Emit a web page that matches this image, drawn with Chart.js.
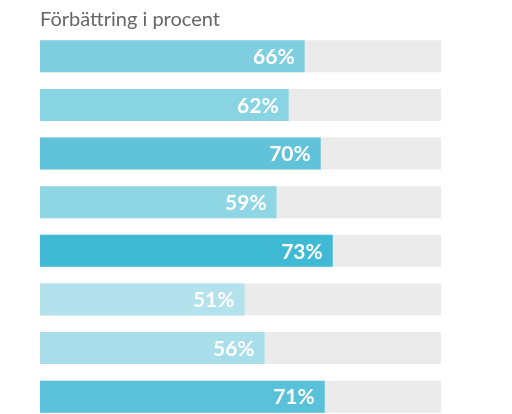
<!DOCTYPE html>
<html>
<head>
    <meta charset="utf-8">
    <title>Förbättring i procent</title>
    <script src="https://cdn.jsdelivr.net/npm/chart.js"></script>
    <style>
        html, body { margin: 0; padding: 0; background: #fff; overflow: hidden; }
        /* taller than the window: the last bar is cut off at the bottom edge */
        .chart-container { width: 512px; height: 430px; position: relative; }
    </style>
</head>
<body>
    <div class="chart-container">
        <canvas id="improveChart"></canvas>
    </div>
    <script>
        const categories = ['A', 'B', 'C', 'D', 'E', 'F', 'G', 'H'];
        const improvement = [66, 62, 70, 59, 73, 51, 56, 71];
        const fullScale = [100, 100, 100, 100, 100, 100, 100, 100];

        const barColors = ['#7fcfe1', '#88d4e3', '#60c3da', '#8fd6e5', '#40b9d5', '#b3e2ed', '#a8deea', '#5ac1da'];

        // white percent label inside the end of each bar
        const valueLabels = {
            id: 'valueLabels',
            afterDatasetsDraw(chart) {
                const ctx = chart.ctx;
                const meta = chart.getDatasetMeta(0);
                ctx.save();
                ctx.fillStyle = '#ffffff';
                ctx.font = 'bold 21px Lato';
                ctx.textAlign = 'right';
                ctx.textBaseline = 'middle';
                meta.data.forEach((bar, i) => {
                    ctx.fillText(improvement[i] + '%', bar.x - 10, bar.y + 1);
                });
                ctx.restore();
            }
        };

        const ctx = document.getElementById('improveChart').getContext('2d');
        const chart = new Chart(ctx, {
            type: 'bar',
            data: {
                labels: categories,
                datasets: [
                    {
                        data: improvement,
                        backgroundColor: barColors,
                        order: 1
                    },
                    {
                        data: fullScale,
                        backgroundColor: '#ebebeb',
                        order: 2
                    }
                ]
            },
            options: {
                indexAxis: 'y',
                responsive: true,
                maintainAspectRatio: false,
                animation: false,
                grouped: false,
                categoryPercentage: 1,
                barPercentage: 0.657,
                layout: {
                    padding: { left: 40, right: 71, top: 0, bottom: 9 }
                },
                scales: {
                    x: { display: false, min: 0, max: 100 },
                    y: { display: false }
                },
                plugins: {
                    legend: { display: false },
                    tooltip: { enabled: false },
                    title: {
                        display: true,
                        text: 'Förbättring i procent',
                        align: 'start',
                        color: '#666666',
                        font: { family: 'Lato', size: 20, weight: 'normal', lineHeight: 1.15 },
                        padding: { top: 8, bottom: 1 }
                    }
                }
            },
            plugins: [valueLabels]
        });
    </script>
</body>
</html>
